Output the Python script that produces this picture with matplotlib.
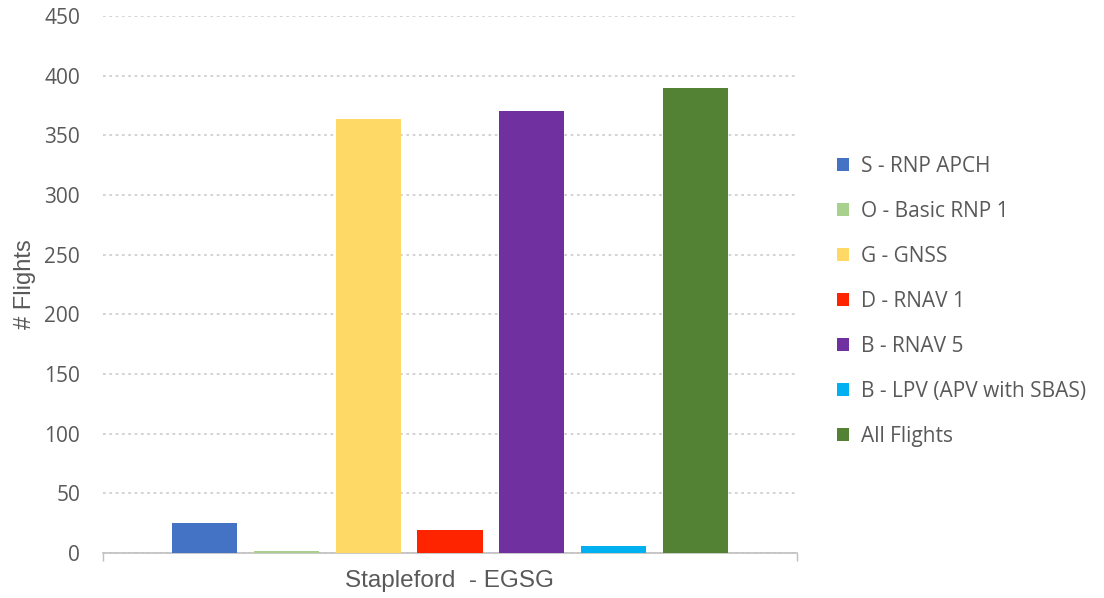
import matplotlib.pyplot as plt
from matplotlib.patches import Patch

# Data
CATEGORY = "Stapleford  - EGSG"
SERIES = ["S - RNP APCH", "O - Basic RNP 1", "G - GNSS", "D - RNAV 1",
          "B - RNAV 5", "B - LPV (APV with SBAS)", "All Flights"]
VALUES = [25, 2, 364, 19, 370, 6, 390]
COLORS = ["#4472C4", "#A9D18E", "#FFD966", "#FF2400",
          "#7030A0", "#00B0F0", "#548235"]
YTICKS = [0, 50, 100, 150, 200, 250, 300, 350, 400, 450]

GRAY = "#595959"

fig = plt.figure(figsize=(11.04, 5.98), dpi=100)
ax = fig.add_axes([0.0933, 0.0753, 0.6286, 0.8980])

step = 0.118
width = 0.0937
n = len(SERIES)
for i, (name, val, col) in enumerate(zip(SERIES, VALUES, COLORS)):
    ax.bar((i - (n - 1) / 2) * step, val, width=width, color=col, label=name, zorder=3)

ax.set_xlim(-0.5, 0.5)
ax.set_ylim(0, 450)
ax.set_yticks(YTICKS)
ax.set_yticklabels([str(t) for t in YTICKS], fontfamily="Open Sans", fontsize=15, color=GRAY)
ax.tick_params(axis="y", length=0, pad=16.5)

ax.set_xticks([0])
ax.set_xticklabels([CATEGORY], fontfamily="Liberation Sans", fontsize=17.5, color=GRAY)
ax.tick_params(axis="x", which="major", length=0, pad=12)
ax.set_xticks([-0.5, 0.5], minor=True)
ax.tick_params(axis="x", which="minor", length=6, color="#BFBFBF", width=1)

ax.grid(axis="y", linestyle=(0, (1.5, 2)), color="#D0D0D0", linewidth=1.3, zorder=0)
for s in ["left", "right", "top"]:
    ax.spines[s].set_visible(False)
ax.spines["bottom"].set_color("#BFBFBF")
ax.spines["bottom"].set_linewidth(1.2)

ax.set_ylabel("# Flights", fontfamily="Liberation Sans", fontsize=17, color=GRAY)
ax.yaxis.set_label_coords(-0.097, 0.5)

handles = [Patch(facecolor=c, label=s) for s, c in zip(SERIES, COLORS)]
fig.legend(handles=handles, loc="center left", bbox_to_anchor=(0.741, 0.4958),
           frameon=False, prop={"family": "Open Sans", "size": 15},
           labelcolor=GRAY, handlelength=0.6, handleheight=0.6,
           handletextpad=0.55, labelspacing=1.15)

fig.savefig("out.png", dpi=100)
